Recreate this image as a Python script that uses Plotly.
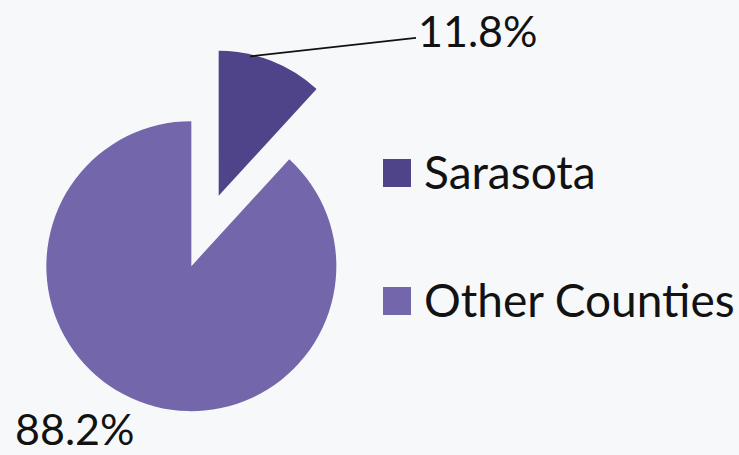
import math
import plotly.graph_objects as go

# County share of the total
labels = ["Sarasota", "Other Counties"]
values = [11.8, 88.2]
colors = ["#4f4489", "#7466ab"]
pulls = [0.26, 0.26]

W, H = 739, 455
BG = "#f7f8fa"
FONT = "Lato"
TEXT_COLOR = "#121212"

# pie geometry (pixels): unpulled centre and radius
R = 145
CX0, CY0 = 205, 231
max_pull = max(pulls)
box = 2 * R * (1 + max_pull)
dom_x = [(CX0 - box / 2) / W, (CX0 + box / 2) / W]
dom_y = [1 - (CY0 + box / 2) / H, 1 - (CY0 - box / 2) / H]

fig = go.Figure(
    go.Pie(
        labels=labels,
        values=values,
        sort=False,
        direction="clockwise",
        rotation=0,
        pull=pulls,
        marker=dict(colors=colors, line=dict(width=0)),
        textinfo="none",
        hoverinfo="label+percent",
        showlegend=False,
        domain=dict(x=dom_x, y=dom_y),
    )
)

# slice angles (degrees clockwise from 12 o'clock)
total = sum(values)
starts, mids = [], []
acc = 0.0
for v in values:
    starts.append(acc)
    mids.append(acc + 180 * v / total)
    acc += 360 * v / total


def slice_centre(i):
    a = math.radians(mids[i])
    return (CX0 + pulls[i] * R * math.sin(a), CY0 - pulls[i] * R * math.cos(a))


annotations = []

# Sarasota percentage with leader line to its rim
sx, sy = slice_centre(0)
tip_angle = math.radians(starts[0] + 0.3 * 360 * values[0] / total)
tip_x = sx + (R - 2) * math.sin(tip_angle)
tip_y = sy - (R - 2) * math.cos(tip_angle)
lab0 = (477, 31)
annotations.append(dict(
    x=tip_x / W, y=1 - tip_y / H, xref="paper", yref="paper",
    text=f"{values[0]:.1f}%", showarrow=True, arrowhead=0, arrowwidth=1.8,
    arrowcolor="#111111", standoff=0, ax=lab0[0] - tip_x, ay=lab0[1] - tip_y,
    font=dict(family=FONT, size=43, color=TEXT_COLOR),
))

# Other Counties percentage, lower left
annotations.append(dict(
    x=74 / W, y=0, xref="paper", yref="paper",
    text=f"{values[1]:.1f}%", showarrow=False, borderpad=0,
    xanchor="center", yanchor="bottom",
    font=dict(family=FONT, size=43, color=TEXT_COLOR),
))

# legend: swatch squares and labels
shapes = []
LEG_X, SW = 383, 28
row_y = [173, 301]
for lab, col, yc in zip(labels, colors, row_y):
    shapes.append(dict(
        type="rect", xref="paper", yref="paper",
        x0=LEG_X / W, x1=(LEG_X + SW) / W,
        y0=1 - (yc + SW / 2) / H, y1=1 - (yc - SW / 2) / H,
        fillcolor=col, line=dict(width=0),
    ))
    annotations.append(dict(
        x=(LEG_X + SW + 11) / W, y=1 - (yc - 2) / H, xref="paper", yref="paper",
        text=lab, showarrow=False, xanchor="left", yanchor="middle",
        font=dict(family=FONT, size=46, color=TEXT_COLOR),
    ))

fig.update_layout(
    width=W, height=H,
    margin=dict(l=0, r=0, t=0, b=0),
    paper_bgcolor=BG, plot_bgcolor=BG,
    annotations=annotations, shapes=shapes,
)

fig.write_html("out.html")
